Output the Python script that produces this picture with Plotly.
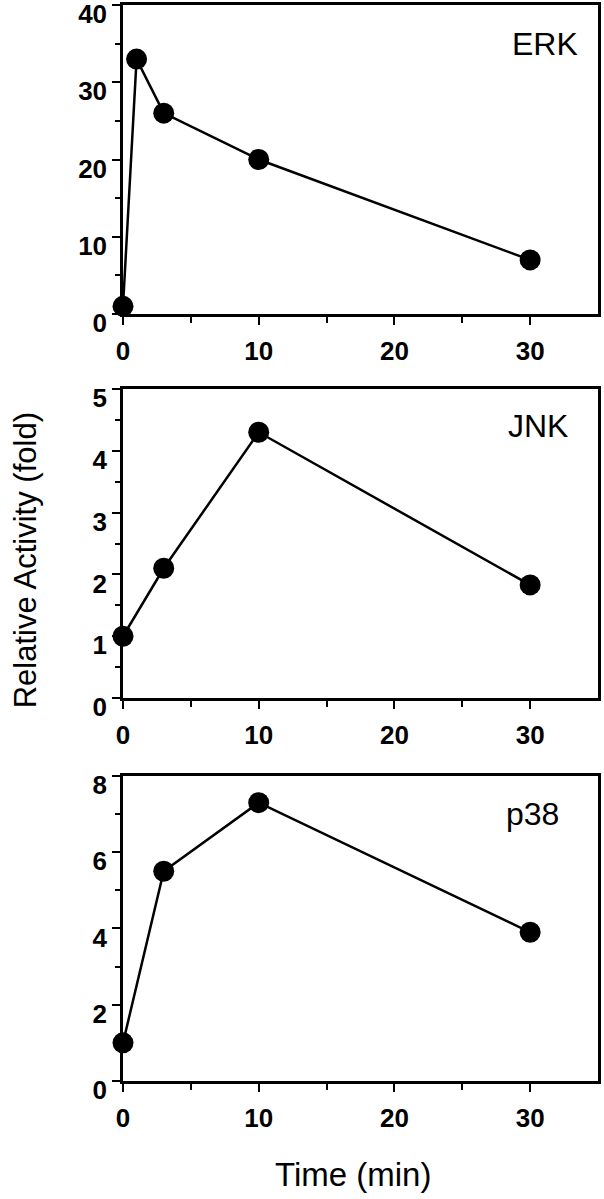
import plotly.graph_objects as go

# time points (min) and relative activity (fold)
erk_time = [0, 1, 3, 10, 30]
erk_fold = [1, 33, 26, 20, 7]

jnk_time = [0, 3, 10, 30]
jnk_fold = [1.0, 2.1, 4.3, 1.83]

p38_time = [0, 3, 10, 30]
p38_fold = [1.0, 5.5, 7.3, 3.9]

panel_names = ["ERK", "JNK", "p38"]
y_ranges = [[0, 40], [0, 5], [0, 8]]
y_dticks = [10, 1, 2]

FONT = "Liberation Sans, Arial, Helvetica, sans-serif"

fig = go.Figure()

series = [(erk_time, erk_fold), (jnk_time, jnk_fold), (p38_time, p38_fold)]
for i, (t, v) in enumerate(series):
    suffix = "" if i == 0 else str(i + 1)
    fig.add_trace(go.Scatter(
        x=t, y=v, mode="lines+markers",
        xaxis="x" + suffix, yaxis="y" + suffix,
        line=dict(color="black", width=2.5),
        marker=dict(color="black", size=21),
        showlegend=False, cliponaxis=False,
    ))

# vertical domains of the three panels (paper fraction, from bottom)
domains = [[0.7128, 1.0], [0.3559, 0.6431], [0.0, 0.2835]]
label_x = [0.962, 0.942, 0.922]
label_y = [0.875, 0.88, 0.875]

axis_common = dict(
    showline=True, linecolor="black", linewidth=2.5, mirror=True,
    showgrid=False, zeroline=False, ticks="outside", ticklen=8,
    tickwidth=2, tickcolor="black", automargin=False,
    ticklabeloverflow="allow",
    tickfont=dict(family=FONT, size=26, color="black", weight="bold"),
)

layout = dict(
    width=604, height=1199,
    margin=dict(l=123, r=6, t=5, b=118),
    plot_bgcolor="white", paper_bgcolor="white",
)
for i in range(3):
    suffix = "" if i == 0 else str(i + 1)
    layout["xaxis" + suffix] = dict(
        axis_common, range=[0, 35], tickvals=[0, 10, 20, 30],
        anchor="y" + suffix, domain=[0, 1],
        minor=dict(tickvals=[5, 15, 25], ticks="outside", ticklen=6,
                   tickwidth=2, tickcolor="black"),
        ticklabelstandoff=4,
    )
    layout["yaxis" + suffix] = dict(
        axis_common, range=y_ranges[i], dtick=y_dticks[i],
        anchor="x" + suffix, domain=domains[i],
        minor=dict(dtick=y_dticks[i] / 2, ticks="outside", ticklen=5,
                   tickwidth=2, tickcolor="black"),
        ticklabelshift=9, ticklabelstandoff=0,
    )
fig.update_layout(**layout)

for i, name in enumerate(panel_names):
    suffix = "" if i == 0 else str(i + 1)
    fig.add_annotation(
        text=name, xref="x" + suffix + " domain", yref="y" + suffix + " domain",
        x=label_x[i], y=label_y[i], xanchor="right", yanchor="middle",
        showarrow=False, font=dict(family=FONT, size=32, color="black"),
    )

fig.add_annotation(
    text="Relative Activity (fold)", xref="paper", yref="paper",
    x=-0.206, y=0.484, textangle=-90, showarrow=False,
    xanchor="center", yanchor="middle",
    font=dict(family=FONT, size=31, color="black"),
)
fig.add_annotation(
    text="Time (min)", xref="paper", yref="paper",
    x=0.484, y=-0.087, showarrow=False, xanchor="center", yanchor="middle",
    font=dict(family=FONT, size=33, color="black"),
)

# drop the default 8px page margin so the 604x1199 figure fills the window
fig.write_html("out.html", config={"displayModeBar": False},
               post_script="document.body.style.margin='0';")
